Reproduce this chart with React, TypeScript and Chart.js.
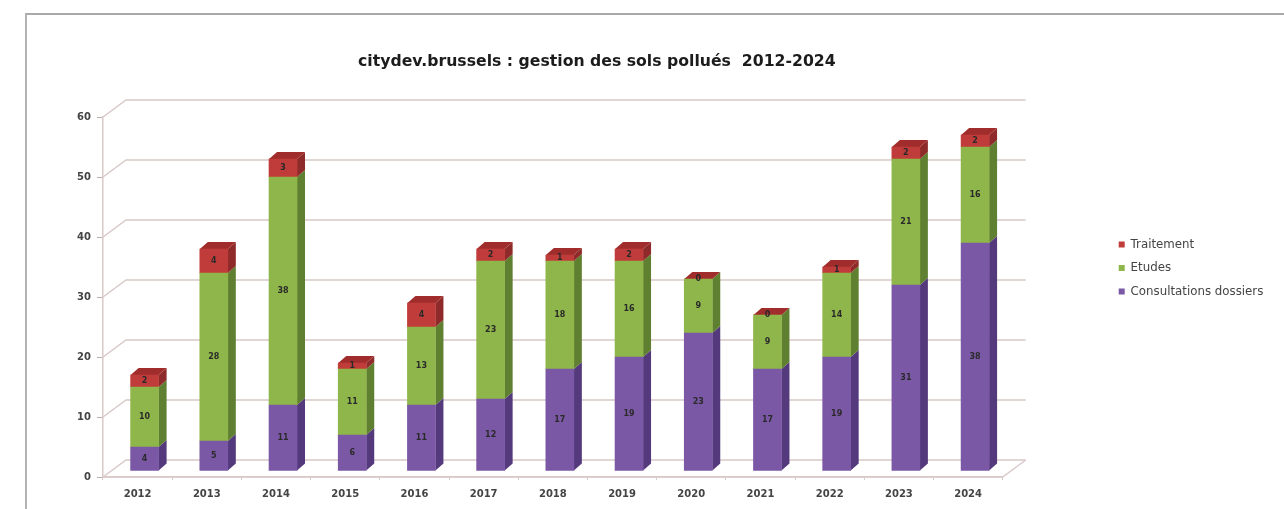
import React, { useEffect, useRef } from "react";
import { Chart, registerables } from "chart.js";

Chart.register(...registerables);

const years = ["2012", "2013", "2014", "2015", "2016", "2017", "2018", "2019", "2020", "2021", "2022", "2023", "2024"];
const consultations = [4, 5, 11, 6, 11, 12, 17, 19, 23, 17, 19, 31, 38];
const etudes = [10, 28, 38, 11, 13, 23, 18, 16, 9, 9, 14, 21, 16];
const traitement = [2, 4, 3, 1, 4, 2, 1, 2, 0, 0, 1, 2, 2];

const FONT = "'DejaVu Sans', sans-serif";
const GRID = "#d9c9c8";

// Depth of the floor and of each column, in pixels.
const WALL = { x: 23, y: -17 };
const SHIFT = { x: 7, y: -6 };
const DEPTH = { x: 8, y: -7 };

const faces = [
  { side: "#54397c", top: "#54397c" },
  { side: "#5f7f31", top: "#5f7f31" },
  { side: "#8e2b2a", top: "#a02d2b" },
];

function poly(ctx: CanvasRenderingContext2D, pts: number[][], fill: string) {
  ctx.beginPath();
  pts.forEach(([x, y], i) => (i ? ctx.lineTo(x, y) : ctx.moveTo(x, y)));
  ctx.closePath();
  ctx.fillStyle = fill;
  ctx.fill();
}

// The title sits right of the plot's centre and the legend leaves a wide gutter.
const placeBoxes = {
  id: "placeBoxes",
  afterLayout(chart: any) {
    chart.titleBlock.left += 44;
    chart.titleBlock.right += 44;
    const dx = 1117 - chart.legend.left - 10;
    chart.legend.left += dx;
    chart.legend.right += dx;
    chart.legend.top -= 13;
    chart.legend.bottom -= 13;
  },
};

const depthPlugin = {
  id: "depth",
  beforeDatasetsDraw(chart: any) {
    const { ctx, chartArea: a, scales } = chart;
    ctx.save();
    ctx.strokeStyle = GRID;
    ctx.lineWidth = 1.5;
    for (const t of scales.y.ticks) {
      const y = scales.y.getPixelForValue(t.value);
      ctx.beginPath();
      ctx.moveTo(a.left, y);
      ctx.lineTo(a.left + WALL.x, y + WALL.y);
      ctx.lineTo(a.right + WALL.x, y + WALL.y);
      ctx.stroke();
    }
    ctx.beginPath();
    ctx.moveTo(a.left, a.bottom);
    ctx.lineTo(a.right, a.bottom);
    ctx.lineTo(a.right + WALL.x, a.bottom + WALL.y);
    ctx.stroke();
    ctx.restore();

    ctx.save();
    ctx.translate(SHIFT.x, SHIFT.y);
    chart.data.datasets.forEach((_: any, d: number) => {
      chart.getDatasetMeta(d).data.forEach((bar: any) => {
        const r = bar.x + bar.width / 2;
        const l = bar.x - bar.width / 2;
        poly(ctx, [[r, bar.y], [r + DEPTH.x, bar.y + DEPTH.y], [r + DEPTH.x, bar.base + DEPTH.y], [r, bar.base]], faces[d].side);
        if (d === chart.data.datasets.length - 1) {
          poly(ctx, [[l, bar.y], [l + DEPTH.x, bar.y + DEPTH.y], [r + DEPTH.x, bar.y + DEPTH.y], [r, bar.y]], faces[d].top);
        }
      });
    });
  },
  afterDatasetsDraw(chart: any) {
    const { ctx } = chart;
    ctx.font = `bold 8px ${FONT}`;
    ctx.fillStyle = "#2a2a2a";
    ctx.textAlign = "center";
    ctx.textBaseline = "middle";
    chart.data.datasets.forEach((ds: any, d: number) => {
      chart.getDatasetMeta(d).data.forEach((bar: any, i: number) => {
        ctx.fillText(String(ds.data[i]), bar.x, (bar.y + bar.base) / 2);
      });
    });
    ctx.restore();
  },
};

export default function App() {
  const ref = useRef<HTMLCanvasElement>(null);
  useEffect(() => {
    const chart = new Chart(ref.current!, {
      type: "bar",
      data: {
        labels: years,
        datasets: [
          { label: "Consultations dossiers", data: consultations, backgroundColor: "#7b58a6" },
          { label: "Etudes", data: etudes, backgroundColor: "#8fb64a" },
          { label: "Traitement", data: traitement, backgroundColor: "#c03c3a" },
        ],
      },
      plugins: [placeBoxes, depthPlugin],
      options: {
        animation: false,
        responsive: false,
        events: [],
        layout: { padding: { left: 0, right: 115, top: 53, bottom: 0 } },
        datasets: { bar: { barThickness: 28 } },
        plugins: {
          tooltip: { enabled: false },
          title: {
            display: true,
            text: "citydev.brussels : gestion des sols pollués  2012-2024",
            font: { family: FONT, size: 15.7, weight: "bold" },
            color: "#1c1c1c",
            fullSize: false,
            padding: { top: 0, bottom: 45.16 },
          },
          legend: {
            position: "right",
            reverse: true,
            labels: {
              boxWidth: 6,
              boxHeight: 6,
              padding: 11.7,
              color: "#444444",
              font: { family: FONT, size: 11.8 },
            },
          },
        },
        scales: {
          x: {
            stacked: true,
            grid: { drawOnChartArea: false, tickLength: 3, color: GRID },
            border: { color: GRID, width: 1.5 },
            ticks: { color: "#444444", padding: 8, font: { family: FONT, size: 10, weight: "bold" } },
            afterFit: (s: any) => { s.height = 32; },
          },
          y: {
            stacked: true,
            min: 0,
            max: 60,
            grid: { drawOnChartArea: false, tickLength: 6, color: "#b9adad" },
            border: { color: GRID, width: 1.5 },
            ticks: { stepSize: 10, color: "#444444", padding: 6, font: { family: FONT, size: 10, weight: "bold" } },
            afterFit: (s: any) => { s.width = 103; },
          },
        },
      },
    } as any);
    return () => chart.destroy();
  }, []);

  return (
    <div style={{ position: "fixed", inset: 0, width: 1284, height: 509, overflow: "hidden", background: "#ffffff" }}>
      <div
        style={{
          position: "absolute",
          left: 25,
          top: 13,
          right: 0,
          bottom: 0,
          borderTop: "2px solid #a9a9a9",
          borderLeft: "2px solid #b4b4b4",
        }}
      />
      <canvas ref={ref} width={1284} height={509} style={{ position: "absolute", left: 0, top: 0, display: "block" }} />
    </div>
  );
}
